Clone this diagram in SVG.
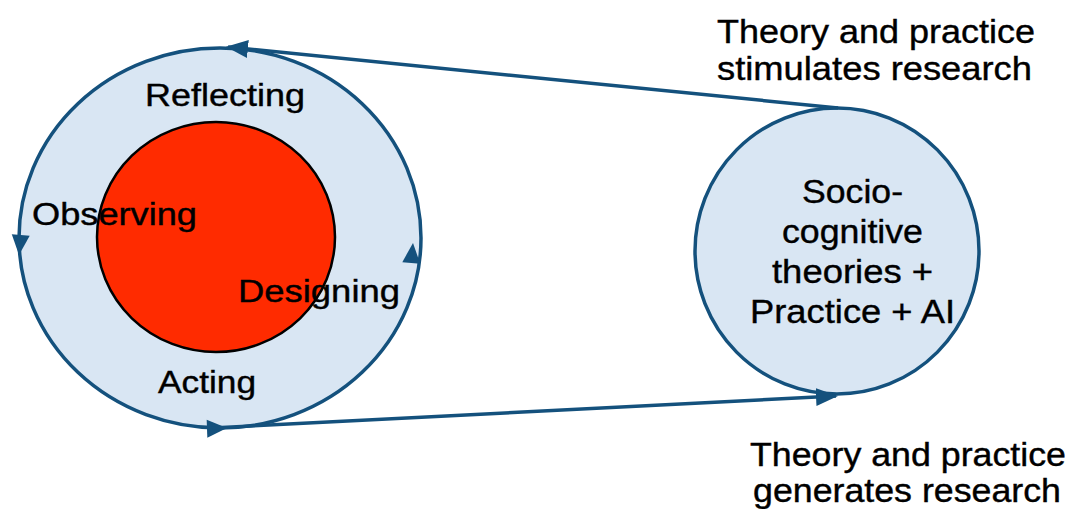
<svg xmlns="http://www.w3.org/2000/svg" width="1079" height="509" viewBox="0 0 1079 509">
<style>
.ring{fill:#d9e6f3;stroke:#14517d;stroke-width:3.5}
.core{fill:#ff2b00;stroke:#000;stroke-width:2.5}
.conn{fill:none;stroke:#14517d;stroke-width:3.5}
.head{fill:#14517d}
text{font-family:"Liberation Sans",Arial,sans-serif;fill:#000;stroke:#000;stroke-width:0.4}
.lbl{font-size:31px}
.cap{font-size:34px}
</style>
<defs>
<marker id="arr" viewBox="0 0 22 18" refX="20" refY="9" markerWidth="22" markerHeight="18" markerUnits="userSpaceOnUse" orient="auto">
<path d="M0,0 L22,9 L0,18 Z" class="head"/>
</marker>
<path id="ah" d="M0,0 L-20,-9 L-20,9 Z"/>
</defs>
<rect width="1079" height="509" fill="#fff"/>
<g id="cycle">
<ellipse class="ring" cx="220" cy="238" rx="201" ry="190"/>
<ellipse class="core" cx="216" cy="237" rx="119" ry="115"/>
<text class="lbl" x="145" y="106" textLength="160" lengthAdjust="spacingAndGlyphs">Reflecting</text>
<text class="lbl" x="32" y="225" textLength="165" lengthAdjust="spacingAndGlyphs">Observing</text>
<text class="lbl" x="238" y="302" textLength="162" lengthAdjust="spacingAndGlyphs">Designing</text>
<text class="lbl" x="158" y="393" textLength="98" lengthAdjust="spacingAndGlyphs">Acting</text>
<use href="#ah" class="head" transform="translate(19,255) rotate(95)"/>
<use href="#ah" class="head" transform="translate(413,243) rotate(-85)"/>
<use href="#ah" class="head" transform="translate(227,428) rotate(-2)"/>
</g>
<g id="theory">
<ellipse class="ring" cx="837" cy="251" rx="142" ry="143"/>
<text class="cap" x="802" y="203" textLength="101" lengthAdjust="spacingAndGlyphs">Socio-</text>
<text class="cap" x="782" y="243" textLength="141" lengthAdjust="spacingAndGlyphs">cognitive</text>
<text class="cap" x="772" y="283" textLength="161" lengthAdjust="spacingAndGlyphs">theories +</text>
<text class="cap" x="750" y="323" textLength="205" lengthAdjust="spacingAndGlyphs">Practice + AI</text>
</g>
<g id="connectors">
<path class="conn" d="M838,108 L228,47" marker-end="url(#arr)"/>
<path class="conn" d="M212,428 L836,396" marker-end="url(#arr)"/>
</g>
<g id="captions">
<text class="cap" x="717" y="43" textLength="318" lengthAdjust="spacingAndGlyphs">Theory and practice</text>
<text class="cap" x="717" y="80" textLength="315" lengthAdjust="spacingAndGlyphs">stimulates research</text>
<text class="cap" x="750" y="466" textLength="316" lengthAdjust="spacingAndGlyphs">Theory and practice</text>
<text class="cap" x="753" y="502" textLength="308" lengthAdjust="spacingAndGlyphs">generates research</text>
</g>
</svg>
